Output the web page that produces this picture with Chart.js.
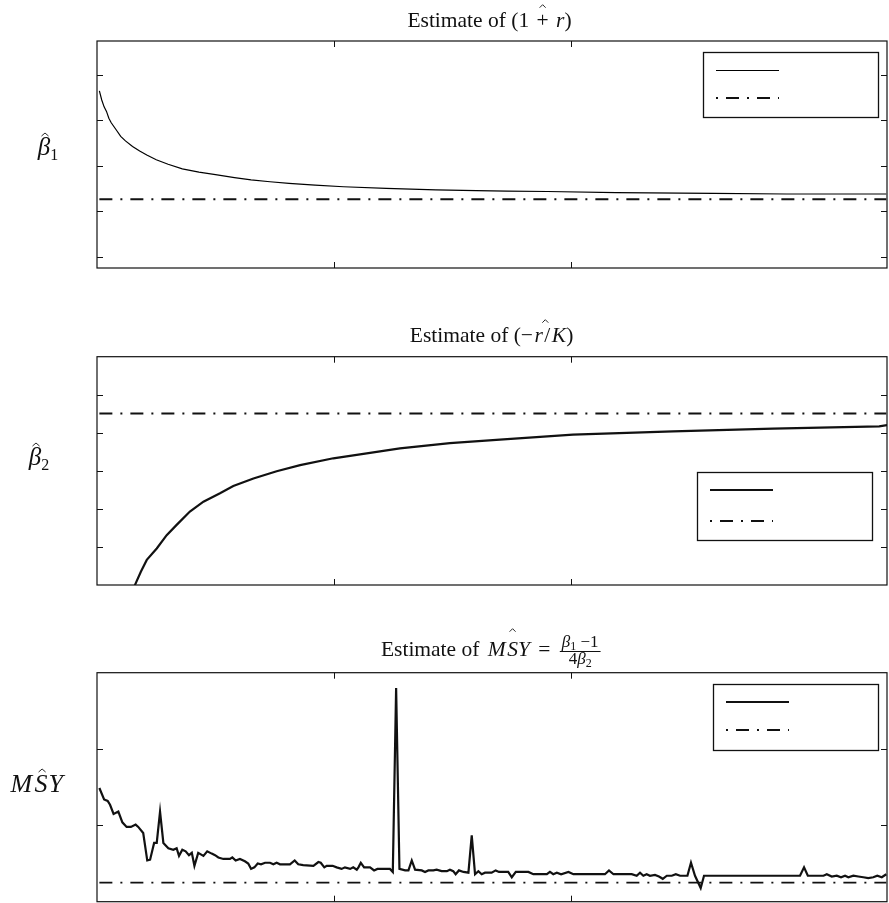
<!DOCTYPE html>
<html><head><meta charset="utf-8">
<script src="https://cdn.jsdelivr.net/npm/chart.js@4/dist/chart.umd.min.js"></script>
<style>
html,body{margin:0;padding:0;background:#fff;}
#wrap{position:relative;width:889px;height:903px;overflow:hidden;background:#fff;}
canvas{position:absolute;left:0;}
</style></head><body>
<div id="wrap">
<canvas id="c1" width="889" height="290" style="top:0px"></canvas>
<canvas id="c2" width="889" height="310" style="top:290px"></canvas>
<canvas id="c3" width="889" height="303" style="top:600px"></canvas>
</div>
<script>
// ---------- data ----------
const xTickValues = [100, 200];
const xMin = 0, xMax = 333.3;
const trueX = [1, 333];

// Panel 1: estimate of (1 + r)
const beta1X   = [1, 2, 3, 4, 5, 6, 8, 10, 12, 15, 18, 21, 25, 30, 36, 43, 50, 58, 65, 73, 81, 92, 104, 122, 143, 160, 173, 190, 219, 260, 291, 333];
const beta1Est = [1.53, 1.49, 1.46, 1.44, 1.41, 1.39, 1.36, 1.33, 1.31, 1.285, 1.265, 1.248, 1.227, 1.207, 1.187, 1.172, 1.161, 1.148, 1.138, 1.130, 1.123, 1.115, 1.108, 1.101, 1.094, 1.091, 1.089, 1.087, 1.082, 1.079, 1.076, 1.076];
const beta1True = 1.053;
const beta1YTicks = [0.8, 1.0, 1.2, 1.4, 1.6];

// Panel 2: estimate of (-r/K)
const beta2X   = [14, 16, 18.5, 21, 25.2, 29.4, 33.6, 39.2, 44.9, 51.9, 57.5, 66, 75.8, 85.7, 99.7, 113.8, 127.8, 148.9, 170, 200.8, 243, 285.2, 330, 333.3];
const beta2Est = [-0.645, -0.600, -0.565, -0.534, -0.504, -0.469, -0.442, -0.407, -0.381, -0.359, -0.340, -0.320, -0.301, -0.285, -0.267, -0.254, -0.241, -0.227, -0.218, -0.205, -0.196, -0.189, -0.183, -0.180];
const beta2True = -0.149;
const beta2YTicks = [-0.5, -0.4, -0.3, -0.2, -0.1];

// Panel 3: estimate of MSY
const msyX = [1, 3, 4.5, 5.5, 7, 9, 10.7, 12.5, 14.3, 16.3, 17.4, 19.5, 21.2, 22.4, 24.1, 25.2, 26.6, 28, 30.1, 32.2, 33.6, 34.6, 36, 37.4, 38.8, 40, 41.1, 42.7, 44.9, 46.5, 48.4, 49.8, 51.2, 53.3, 56.1, 57.1, 58.5, 60.3, 62.4, 63.8, 65, 66.4, 67.8, 69.2, 70.9, 73, 74.4, 75.8, 77.2, 81.4, 83.4, 84.9, 87, 91.3, 93.4, 94.4, 95.9, 96.9, 99.4, 101.1, 103.2, 104.6, 106.8, 108.1, 109.6, 110.3, 111.3, 112.7, 115.2, 116.9, 118.3, 123.6, 124.8, 126.2, 127.6, 130, 131.4, 132.8, 134.2, 137, 138.4, 139.8, 141.9, 143.3, 145.4, 147.6, 148.9, 150.3, 151.3, 152.7, 154.6, 156.7, 158.1, 159.5, 160.9, 162.3, 163.7, 166.5, 168.2, 169.6, 171.4, 173.5, 175, 176.7, 182, 184.1, 189.8, 191.1, 192.5, 194, 195.8, 198.9, 201, 214.3, 216, 217.9, 225.6, 227.7, 229.1, 230.5, 231.9, 233.3, 235.4, 237.1, 238.7, 240.4, 242.5, 244.2, 246, 249.1, 250.6, 252.3, 254.7, 256.1, 296.6, 298.3, 299.9, 306.5, 307.9, 310, 312.1, 313.9, 315.6, 317, 319.1, 321.2, 323.3, 325.4, 327.5, 329.2, 331.1, 333];
const msyEst = [1.49, 1.34, 1.32, 1.27, 1.15, 1.18, 1.04, 0.98, 0.98, 1.01, 0.98, 0.90, 0.54, 0.55, 0.77, 0.77, 1.18, 0.77, 0.70, 0.68, 0.70, 0.60, 0.68, 0.66, 0.61, 0.64, 0.47, 0.64, 0.60, 0.66, 0.63, 0.61, 0.58, 0.56, 0.56, 0.58, 0.54, 0.56, 0.53, 0.50, 0.43, 0.45, 0.50, 0.49, 0.51, 0.51, 0.49, 0.51, 0.49, 0.49, 0.54, 0.49, 0.48, 0.47, 0.52, 0.51, 0.45, 0.47, 0.47, 0.45, 0.43, 0.45, 0.43, 0.45, 0.42, 0.45, 0.51, 0.45, 0.45, 0.41, 0.43, 0.43, 0.39, 2.80, 0.43, 0.41, 0.41, 0.54, 0.42, 0.41, 0.39, 0.41, 0.41, 0.42, 0.40, 0.40, 0.42, 0.40, 0.36, 0.41, 0.39, 0.38, 0.87, 0.36, 0.40, 0.36, 0.38, 0.38, 0.41, 0.39, 0.39, 0.39, 0.32, 0.39, 0.39, 0.36, 0.36, 0.39, 0.36, 0.38, 0.36, 0.39, 0.36, 0.36, 0.41, 0.36, 0.36, 0.34, 0.38, 0.34, 0.36, 0.34, 0.35, 0.33, 0.30, 0.34, 0.34, 0.36, 0.34, 0.34, 0.51, 0.34, 0.18, 0.34, 0.34, 0.45, 0.34, 0.34, 0.36, 0.33, 0.34, 0.32, 0.34, 0.32, 0.34, 0.33, 0.32, 0.31, 0.32, 0.34, 0.32, 0.36];
const msyTrue = 0.25;
const msyYTicks = [1, 2];

// ---------- drawing helpers ----------
const SERIF = '"Liberation Serif", "DejaVu Serif", serif';
const INK = '#111';
const DASH = [13, 8, 2, 8];

function hat(ctx, cx, y, w) {
  ctx.save();
  ctx.lineWidth = 0.9; ctx.strokeStyle = INK;
  ctx.beginPath(); ctx.moveTo(cx - w, y + 3); ctx.lineTo(cx, y); ctx.lineTo(cx + w, y + 3); ctx.stroke();
  ctx.restore();
}

function piecesWidth(ctx, pieces, fonts) {
  let w = 0;
  pieces.forEach(p => { ctx.font = fonts[p[1]]; w += ctx.measureText(p[0]).width; });
  return w;
}
function drawPieces(ctx, pieces, fonts, cx, baseline) {
  let x = cx - piecesWidth(ctx, pieces, fonts) / 2;
  pieces.forEach(p => {
    ctx.font = fonts[p[1]];
    ctx.fillText(p[0], x, baseline + (p[1] === 's' ? 3 : 0));
    x += ctx.measureText(p[0]).width;
  });
}

function drawSeq(ctx, segs, cx, baseline) {
  const ws = [];
  let total = 0;
  segs.forEach(s => {
    let w;
    if (s.frac) {
      w = Math.max(piecesWidth(ctx, s.num, s.fonts), piecesWidth(ctx, s.den, s.fonts)) + 6;
    } else {
      ctx.font = s.font;
      w = ctx.measureText(s.t).width;
    }
    w += (s.pad || 0);
    ws.push(w); total += w;
  });
  let x = cx - total / 2;
  ctx.fillStyle = INK; ctx.textBaseline = 'alphabetic'; ctx.textAlign = 'left';
  segs.forEach((s, i) => {
    if (s.frac) {
      const w = ws[i];
      const ly = Math.round(baseline - 5) + 0.5;
      ctx.save(); ctx.lineWidth = 1; ctx.strokeStyle = INK;
      ctx.beginPath(); ctx.moveTo(x + 1, ly); ctx.lineTo(x + w - 1, ly); ctx.stroke(); ctx.restore();
      drawPieces(ctx, s.num, s.fonts, x + w / 2, ly - 5);
      drawPieces(ctx, s.den, s.fonts, x + w / 2, ly + 12);
    } else {
      ctx.font = s.font;
      ctx.fillText(s.t, x + (s.pad || 0) / 2, baseline + (s.dy || 0));
      if (s.hat) hat(ctx, x + ws[i] / 2 + (s.hx || 0), baseline + (s.dy || 0) - s.hat, s.hw || 3.5);
    }
    x += ws[i];
  });
}

function decorPlugin(cfg) {
  return {
    id: 'decor_' + cfg.id,
    afterDraw(chart) {
      const ctx = chart.ctx;
      const a = chart.chartArea;
      const xs = chart.scales.x, ys = chart.scales.y;
      ctx.save();
      // frame
      ctx.strokeStyle = INK; ctx.lineWidth = 1.2;
      ctx.strokeRect(a.left, a.top, a.right - a.left, a.bottom - a.top);
      // inward ticks
      ctx.lineWidth = 1;
      ctx.beginPath();
      xTickValues.forEach(v => {
        const px = Math.round(xs.getPixelForValue(v)) + 0.5;
        ctx.moveTo(px, a.bottom); ctx.lineTo(px, a.bottom - 6);
        ctx.moveTo(px, a.top); ctx.lineTo(px, a.top + 6);
      });
      cfg.yTicks.forEach(v => {
        const py = Math.round(ys.getPixelForValue(v)) + 0.5;
        ctx.moveTo(a.left, py); ctx.lineTo(a.left + 6, py);
        ctx.moveTo(a.right, py); ctx.lineTo(a.right - 6, py);
      });
      ctx.stroke();
      // legend box
      const L = cfg.legend;
      ctx.fillStyle = '#fff';
      ctx.fillRect(L.x0, L.y0, L.x1 - L.x0, L.y1 - L.y0);
      ctx.lineWidth = 1.3; ctx.strokeStyle = INK;
      ctx.strokeRect(L.x0, L.y0, L.x1 - L.x0, L.y1 - L.y0);
      chart.data.datasets.forEach((ds, i) => {
        const y = L.rows[i];
        ctx.save();
        ctx.lineWidth = Math.max(1, Math.round(ds.borderWidth)); ctx.strokeStyle = ds.borderColor;
        ctx.setLineDash(ds.borderDash ? [2, 8, 13, 8] : []);
        const yy = (ctx.lineWidth % 2 === 1) ? y + 0.5 : y;
        ctx.beginPath(); ctx.moveTo(L.sx0, yy); ctx.lineTo(L.sx1, yy); ctx.stroke();
        ctx.restore();
      });
      // title
      drawSeq(ctx, cfg.title, cfg.titleX, cfg.titleY);
      // y label
      drawSeq(ctx, cfg.ylabel, cfg.ylabelX, cfg.ylabelY);
      ctx.restore();
    }
  };
}

function makeChart(cfg) {
  return new Chart(document.getElementById(cfg.id), {
    type: 'line',
    data: {
      datasets: [
        { label: 'estimate', data: cfg.estX.map((x, i) => ({ x: x, y: cfg.estY[i] })),
          borderColor: cfg.estC || INK, borderWidth: cfg.estW, pointRadius: 0, tension: 0, fill: false },
        { label: 'true', data: trueX.map(x => ({ x: x, y: cfg.trueV })),
          borderColor: INK, borderWidth: cfg.trueW, borderDash: DASH, pointRadius: 0, fill: false }
      ]
    },
    options: {
      responsive: false, animation: false, devicePixelRatio: 1,
      layout: { padding: { top: cfg.padTop, right: 2, left: 0, bottom: 0 } },
      plugins: { legend: { display: false }, tooltip: { enabled: false }, title: { display: false } },
      scales: {
        x: { type: 'linear', min: xMin, max: xMax, ticks: { display: false },
             grid: { display: false, drawTicks: false }, border: { display: false },
             afterFit: s => { s.height = cfg.xH; } },
        y: { type: 'linear', min: cfg.yMin, max: cfg.yMax, ticks: { display: false },
             grid: { display: false, drawTicks: false }, border: { display: false },
             afterFit: s => { s.width = 97; } }
      }
    },
    plugins: [decorPlugin(cfg)]
  });
}

const F = '21.5px ' + SERIF;
const FI = 'italic 21.5px ' + SERIF;
const FL = 'italic 25px ' + SERIF;
const FL2 = 'italic 26px ' + SERIF;
const FLs = '16px ' + SERIF;
const FRAC = { i: 'italic 17px ' + SERIF, r: '17px ' + SERIF, s: '12px ' + SERIF };

makeChart({
  id: 'c1', estX: beta1X, estY: beta1Est, trueV: beta1True, estW: 1.2, estC: '#000', trueW: 2,
  yMin: 0.75, yMax: 1.75, yTicks: beta1YTicks, padTop: 41, xH: 22,
  legend: { x0: 703.5, y0: 52.5, x1: 878.5, y1: 117.5, sx0: 716, sx1: 779, rows: [70, 98] },
  title: [ { t: 'Estimate of (1', font: F }, { t: ' + ', font: F, hat: 22, hw: 3, pad: 4 }, { t: 'r', font: FI }, { t: ')', font: F } ],
  titleX: 489.5, titleY: 26.7,
  ylabel: [ { t: 'β', font: FL, hat: 22, hx: 1 }, { t: '1', font: FLs, dy: 5 } ], ylabelX: 48, ylabelY: 155
});

makeChart({
  id: 'c2', estX: beta2X, estY: beta2Est, trueV: beta2True, estW: 2.2, trueW: 2,
  yMin: -0.6, yMax: 0, yTicks: beta2YTicks, padTop: 66.7, xH: 15,
  legend: { x0: 697.5, y0: 182.5, x1: 872.5, y1: 250.5, sx0: 710, sx1: 773, rows: [200, 231] },
  title: [ { t: 'Estimate of (−', font: F, pad: 3 }, { t: 'r', font: FI }, { t: '/', font: F, hat: 22, hw: 3, hx: -2, pad: 3 }, { t: 'K', font: FI }, { t: ')', font: F } ],
  titleX: 490.8, titleY: 51.7,
  ylabel: [ { t: 'β', font: FL, hat: 22, hx: 1 }, { t: '2', font: FLs, dy: 5 } ], ylabelX: 39, ylabelY: 175
});

makeChart({
  id: 'c3', estX: msyX, estY: msyEst, trueV: msyTrue, estW: 2.2, trueW: 1.8,
  yMin: 0, yMax: 3, yTicks: msyYTicks, padTop: 72.7, xH: 1.3,
  legend: { x0: 713.5, y0: 84.5, x1: 878.5, y1: 150.5, sx0: 726, sx1: 789, rows: [102, 130] },
  title: [ { t: 'Estimate of ', font: F, pad: 3 }, { t: 'M', font: FI, pad: 3 }, { t: 'S', font: FI, hat: 27, hw: 3 }, { t: 'Y', font: FI }, { t: ' = ', font: F, pad: 6 },
           { frac: true, fonts: FRAC,
             num: [['β', 'i'], ['1', 's'], [' −1', 'r']], den: [['4', 'r'], ['β', 'i'], ['2', 's']] } ],
  titleX: 490.5, titleY: 55.7,
  ylabel: [ { t: 'M', font: FL2, pad: 3 }, { t: 'S', font: FL2, hat: 23, hx: 1, pad: 2 }, { t: 'Y', font: FL2 } ], ylabelX: 36, ylabelY: 192
});
</script>
</body></html>
